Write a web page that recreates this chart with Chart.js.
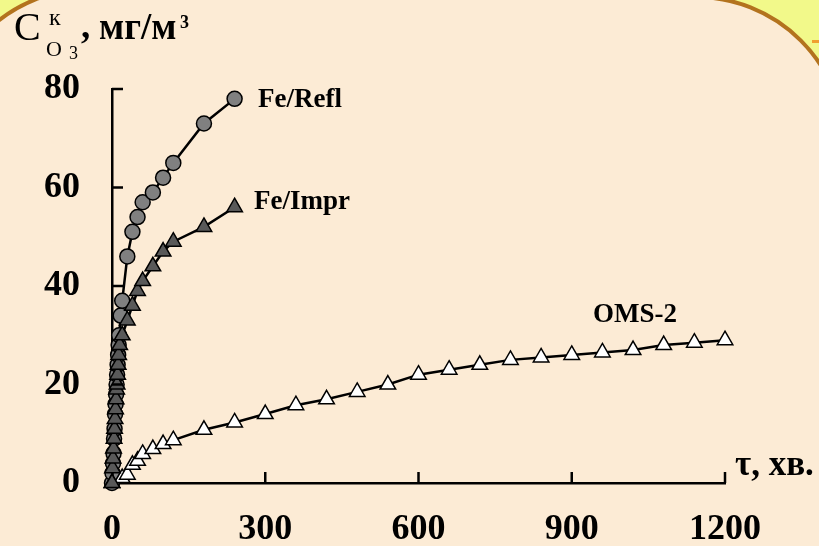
<!DOCTYPE html>
<html>
<head>
<meta charset="utf-8">
<title>Ozone concentration</title>
<script src="https://cdn.jsdelivr.net/npm/chart.js"></script>
<style>
  html, body { margin: 0; padding: 0; }
  body {
    width: 819px; height: 546px; overflow: hidden; position: relative;
    background: #F2F98A;
    font-family: 'Liberation Serif', 'Times New Roman', serif;
  }
  canvas { position: absolute; left: 0; top: 0; }
  .t { position: absolute; line-height: 1; white-space: nowrap; color: #000; }
  .b { font-weight: bold; }
</style>
</head>
<body>
<canvas id="chart" width="819" height="546"></canvas>

<span class="t" style="left:14px; top:7px; font-size:40px;">C</span>
<span class="t" style="left:49px; top:5px; font-size:24px;">к</span>
<span class="t" style="left:46px; top:38px; font-size:22px;">O</span>
<span class="t" style="left:69px; top:44px; font-size:18px;">3</span>
<span class="t b" style="left:81px; top:7px; font-size:37px;">,</span>
<span class="t b" style="left:99px; top:8px; font-size:37px;">мг/м</span>
<span class="t b" style="left:180px; top:13px; font-size:18px;">3</span>

<span class="t b" style="left:258px; top:85px; font-size:27px;">Fe/Refl</span>
<span class="t b" style="left:254px; top:187px; font-size:27px;">Fe/Impr</span>
<span class="t b" style="left:593px; top:300px; font-size:27px;">OMS-2</span>
<span class="t b" style="left:735px; top:446px; font-size:35px;">τ, хв.</span>

<script>
// time, min
const reflX = [0, 1, 2, 3, 4, 5, 6, 7, 8, 9, 10, 11, 12, 13, 14, 17, 20, 30, 40, 50, 60, 80, 100, 120, 180, 240];
const reflY = [0, 2, 4, 6, 9, 11, 14, 16, 18, 20, 22, 24, 26, 28, 30, 34, 37, 46, 51, 54, 57, 59, 62, 65, 73, 78];

const imprX = [0, 1, 2, 3, 4, 5, 6, 7, 8, 9, 10, 11, 12, 13, 15, 20, 30, 40, 50, 60, 80, 100, 120, 180, 240];
const imprY = [0, 3, 5, 7, 9, 11, 13, 15, 17, 19, 20, 22, 24, 26, 28, 30, 33, 36, 39, 41, 44, 47, 49, 52, 56];

const omsX = [0, 20, 30, 40, 50, 60, 80, 100, 120, 180, 240, 300, 360, 420, 480, 540, 600, 660, 720, 780, 840, 900, 960, 1020, 1080, 1140, 1200];
const omsY = [0, 1, 1.7, 3.7, 4.5, 5.9, 6.9, 7.9, 8.7, 10.8, 12.3, 14, 15.8, 17, 18.5, 20, 22, 23, 24, 25, 25.5, 26, 26.5, 27, 28, 28.5, 29];

const xTicks = [0, 300, 600, 900, 1200];
const yTicks = [0, 20, 40, 60, 80];

function pts(xs, ys) { return xs.map((x, i) => ({ x: x, y: ys[i] })); }

// slide frame: yellow corners, peach panel with rounded brown border
const frame = {
  id: 'frame',
  beforeDraw(chart) {
    const ctx = chart.ctx, W = chart.width, H = chart.height;
    ctx.save();
    ctx.fillStyle = '#F2F98A';
    ctx.fillRect(0, 0, W, H);
    ctx.fillStyle = '#F0A030';
    ctx.fillRect(812, 40, 7, 3);
    const r = 148;
    ctx.beginPath();
    ctx.moveTo(90 - r, H + 50);
    ctx.lineTo(90 - r, 137);
    ctx.arc(90, 137, r, Math.PI, 1.5 * Math.PI);
    ctx.lineTo(696, 145 - r);
    ctx.arc(696, 145, r, 1.5 * Math.PI, 2 * Math.PI);
    ctx.lineTo(696 + r, H + 50);
    ctx.closePath();
    ctx.fillStyle = '#FCEBD5';
    ctx.fill();
    ctx.lineWidth = 4;
    ctx.strokeStyle = '#B3731E';
    ctx.stroke();
    ctx.restore();
  }
};

// short tick marks pointing into the plot
const innerTicks = {
  id: 'innerTicks',
  afterDraw(chart) {
    const ctx = chart.ctx, xs = chart.scales.x, ys = chart.scales.y;
    ctx.save();
    ctx.strokeStyle = '#000';
    ctx.lineWidth = 2.5;
    ctx.beginPath();
    xTicks.forEach(v => {
      if (v === 0) return;
      const px = xs.getPixelForValue(v);
      ctx.moveTo(px, ys.bottom);
      ctx.lineTo(px, ys.bottom - 11);
    });
    yTicks.forEach(v => {
      if (v === 0) return;
      const py = ys.getPixelForValue(v);
      ctx.moveTo(xs.left, py);
      ctx.lineTo(xs.left + 11, py);
    });
    ctx.stroke();
    ctx.restore();
  }
};

const common = {
  showLine: true,
  borderColor: '#000',
  borderWidth: 2.5,
  tension: 0,
  pointBorderColor: '#000',
  pointBorderWidth: 1.5,
  clip: false
};

const tickFont = { family: 'Liberation Serif', weight: 'bold', size: 36 };

// first dataset is drawn on top
new Chart(document.getElementById('chart'), {
  type: 'scatter',
  data: {
    datasets: [
      Object.assign({}, common, { label: 'Fe/Impr', data: pts(imprX, imprY), pointStyle: 'triangle', pointRadius: 9, pointBackgroundColor: '#595959' }),
      Object.assign({}, common, { label: 'OMS-2', data: pts(omsX, omsY), pointStyle: 'triangle', pointRadius: 9, pointBackgroundColor: '#FFFFFF' }),
      Object.assign({}, common, { label: 'Fe/Refl', data: pts(reflX, reflY), pointStyle: 'circle', pointRadius: 7.5, pointBackgroundColor: '#808080' })
    ]
  },
  options: {
    responsive: false,
    animation: false,
    layout: { padding: { left: 0, right: 94, top: 89, bottom: 0 } },
    plugins: { legend: { display: false }, tooltip: { enabled: false } },
    scales: {
      x: {
        type: 'linear', min: 0, max: 1200,
        afterBuildTicks: s => { s.ticks = xTicks.map(v => ({ value: v })); },
        afterFit: s => { s.height = 63; },
        grid: { display: false, drawTicks: false },
        border: { display: true, color: '#000', width: 2.5 },
        ticks: { color: '#000', padding: 25, maxRotation: 0, font: tickFont, callback: v => String(v) }
      },
      y: {
        type: 'linear', min: 0, max: 80,
        afterBuildTicks: s => { s.ticks = yTicks.map(v => ({ value: v })); },
        afterFit: s => { s.width = 112; },
        grid: { display: false, drawTicks: false },
        border: { display: true, color: '#000', width: 2.5 },
        ticks: { color: '#000', padding: 32, font: tickFont, callback: v => String(v) }
      }
    }
  },
  plugins: [frame, innerTicks]
});
</script>
</body>
</html>
